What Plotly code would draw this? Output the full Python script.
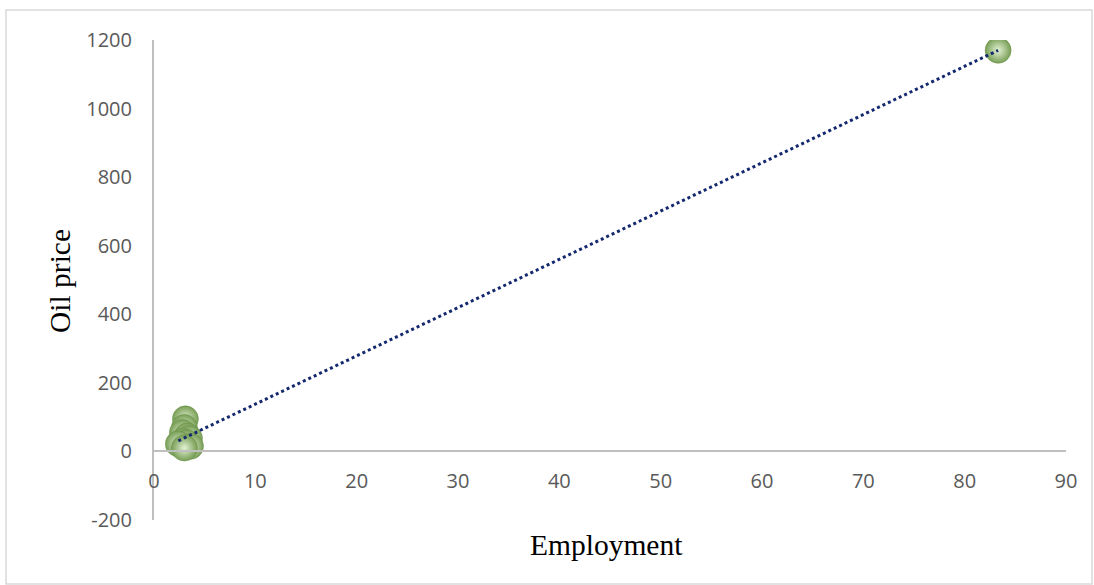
import numpy as np
import plotly.graph_objects as go

# Data
employment = [3.1, 3.0, 2.8, 3.3, 3.5, 2.9, 3.2, 2.4, 3.6, 3.0, 83.3]
oil_price = [95, 70, 55, 45, 38, 30, 25, 22, 15, 10, 1170]
x_ticks = [0, 10, 20, 30, 40, 50, 60, 70, 80, 90]
y_ticks = [-200, 0, 200, 400, 600, 800, 1000, 1200]
y_tick_text = ["-200", "0", "200", "400", "600", "800", "1000", "1200"]

X_RANGE = [0, 90]
Y_RANGE = [-200, 1200]

# Linear trendline (least squares) over the data's x span
slope, intercept = np.polyfit(employment, oil_price, 1)
tx = np.array([min(employment), max(employment)])
ty = slope * tx + intercept

fig = go.Figure()
fig.add_trace(go.Scatter(
    x=employment, y=oil_price, mode="markers",
    marker=dict(size=26, color="#779E55",
                gradient=dict(type="radial", color="#E4F2D4"),
                line=dict(width=0.5, color="#6B9148")),
    showlegend=False, hoverinfo="x+y",
))
fig.add_trace(go.Scatter(
    x=tx, y=ty, mode="lines",
    line=dict(color="#13286E", width=3, dash="dot"),
    showlegend=False, hoverinfo="skip",
))

W, H = 1094, 585
ml, mr, mt, mb = 154, 28, 40, 65
pw, ph = W - ml - mr, H - mt - mb
zero_pos = (0 - Y_RANGE[0]) / (Y_RANGE[1] - Y_RANGE[0])

tick_font = dict(family="Open Sans, Liberation Sans, sans-serif", size=20, color="#595959")
title_font = dict(family="Liberation Serif, Times New Roman, serif", size=29.5, color="#000000")

fig.update_layout(
    width=W, height=H,
    margin=dict(l=ml, r=mr, t=mt, b=mb),
    paper_bgcolor="white", plot_bgcolor="white",
    xaxis=dict(range=X_RANGE, tickvals=x_ticks, showgrid=False, zeroline=False,
               showline=True, linecolor="#BFBFBF", linewidth=2,
               anchor="free", position=zero_pos, ticks="",
               tickfont=tick_font, ticklabelstandoff=12, fixedrange=True),
    yaxis=dict(range=Y_RANGE, tickvals=y_ticks, ticktext=y_tick_text,
               showgrid=False, zeroline=False,
               showline=True, linecolor="#BFBFBF", linewidth=2, ticks="",
               tickfont=tick_font, ticklabelstandoff=16, fixedrange=True),
    shapes=[dict(type="rect", xref="paper", yref="paper",
                 x0=(6 - ml) / pw, x1=(1092 - ml) / pw,
                 y0=(H - mb - 584) / ph, y1=(H - mb - 10) / ph,
                 line=dict(color="#D9D9D9", width=1.5))],
    annotations=[
        dict(text="Oil price", xref="paper", yref="paper",
             x=(60 - ml) / pw, y=(H - mb - 281) / ph, textangle=-90,
             showarrow=False, xanchor="center", yanchor="middle",
             font=title_font),
        dict(text="Employment", xref="paper", yref="paper",
             x=(606 - ml) / pw, y=(H - mb - 545) / ph,
             showarrow=False, xanchor="center", yanchor="middle",
             font=title_font),
    ],
)

fig.write_html("out.html")
